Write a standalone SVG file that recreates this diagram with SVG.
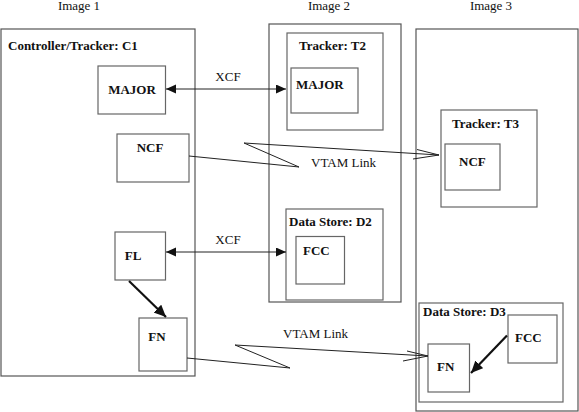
<svg xmlns="http://www.w3.org/2000/svg" width="579" height="412" viewBox="0 0 579 412" font-family="'Liberation Serif', 'Times New Roman', 'DejaVu Serif', serif">
<defs>
<style>
.box{fill:none;stroke:#666;stroke-width:1.2}
.outer{fill:none;stroke:#555;stroke-width:1.2}
text{font-family:'Liberation Serif','Times New Roman','DejaVu Serif',serif;font-size:13px;fill:#111}
.b{font-weight:bold}
.ln{fill:none;stroke:#222;stroke-width:1}
.bold{fill:none;stroke:#111;stroke-width:2.2}
</style>
<marker id="fa" markerUnits="userSpaceOnUse" markerWidth="12" markerHeight="10" refX="10" refY="4.5" orient="auto-start-reverse" viewBox="0 0 12 10">
<path d="M0,0 L10,4.5 L0,9 Z" fill="#111"/>
</marker>
<marker id="fb" markerUnits="userSpaceOnUse" markerWidth="14" markerHeight="12" refX="12" refY="5.5" orient="auto" viewBox="0 0 14 12">
<path d="M0,0 L12,5.5 L0,11 Z" fill="#111"/>
</marker>
</defs>
<g id="labels">
<text x="79" y="10" text-anchor="middle">Image 1</text>
<text x="329" y="10" text-anchor="middle">Image 2</text>
<text x="491" y="10" text-anchor="middle">Image 3</text>
</g>
<g id="C1">
<rect class="outer" x="1" y="29" width="194" height="347"/>
<text class="b" x="8" y="50">Controller/Tracker: C1</text>
</g>
<g id="C1-MAJOR">
<rect class="box" x="98" y="66" width="67.5" height="48"/>
<text class="b" x="132" y="94" text-anchor="middle">MAJOR</text>
</g>
<g id="C1-NCF">
<rect class="box" x="117" y="134" width="72" height="48"/>
<text class="b" x="150" y="152" text-anchor="middle">NCF</text>
</g>
<g id="C1-FL">
<rect class="box" x="115" y="232" width="50.5" height="48"/>
<text class="b" x="133" y="260" text-anchor="middle">FL</text>
</g>
<g id="C1-FN">
<rect class="box" x="139" y="318" width="48" height="53"/>
<text class="b" x="157" y="341" text-anchor="middle">FN</text>
</g>
<g id="Image2">
<rect class="outer" x="269" y="24" width="132" height="278"/>
</g>
<g id="T2">
<rect class="box" x="287" y="33" width="96" height="97"/>
<text class="b" x="299" y="50">Tracker: T2</text>
</g>
<g id="T2-MAJOR">
<rect class="box" x="291" y="68" width="67" height="45"/>
<text class="b" x="296" y="89">MAJOR</text>
</g>
<g id="D2">
<rect class="box" x="286" y="209" width="97" height="91"/>
<text class="b" x="289" y="226">Data Store: D2</text>
</g>
<g id="D2-FCC">
<rect class="box" x="296" y="236.5" width="48.5" height="47.5"/>
<text class="b" x="303" y="255">FCC</text>
</g>
<g id="Image3">
<rect class="outer" x="416" y="29" width="162" height="382"/>
</g>
<g id="T3">
<rect class="box" x="441" y="110" width="96" height="97"/>
<text class="b" x="452" y="128">Tracker: T3</text>
</g>
<g id="T3-NCF">
<rect class="box" x="445" y="144" width="55" height="46"/>
<text class="b" x="459" y="166">NCF</text>
</g>
<g id="D3">
<rect class="box" x="419" y="303" width="144" height="99"/>
<text class="b" x="423" y="316">Data Store: D3</text>
</g>
<g id="D3-FCC">
<rect class="box" x="508" y="315" width="49" height="48"/>
<text class="b" x="515" y="342">FCC</text>
</g>
<g id="D3-FN">
<rect class="box" x="428" y="344" width="41.5" height="48"/>
<text class="b" x="437" y="371">FN</text>
</g>
<g id="connectors">
<line class="ln" x1="166" y1="89" x2="286" y2="89" marker-start="url(#fa)" marker-end="url(#fa)"/>
<text x="228" y="81" text-anchor="middle">XCF</text>
<line class="ln" x1="166" y1="252" x2="286" y2="252" marker-start="url(#fa)" marker-end="url(#fa)"/>
<text x="228" y="244" text-anchor="middle">XCF</text>
<polyline class="ln" points="189,156 299,167 244,143 439,155"/>
<polyline class="ln" points="417,149.5 439,155 413,159"/>
<text x="311" y="167">VTAM Link</text>
<polyline class="ln" points="187,358 290,368 235,345 428,356"/>
<polyline class="ln" points="407,351 428,356 403,361"/>
<text x="283" y="338">VTAM Link</text>
<line class="bold" x1="129" y1="281" x2="166" y2="317" marker-end="url(#fb)"/>
<line class="bold" x1="507" y1="335.5" x2="471" y2="373" marker-end="url(#fb)"/>
</g>
</svg>
